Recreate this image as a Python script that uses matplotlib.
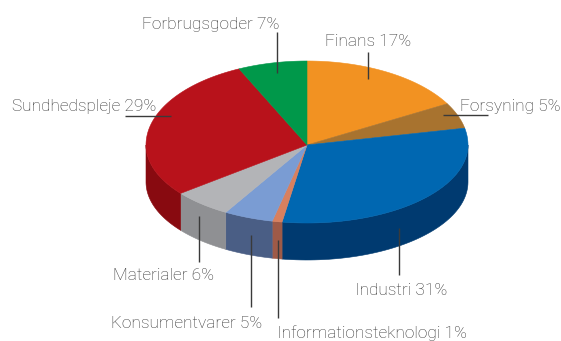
import numpy as np
import matplotlib
matplotlib.use("Agg")
import matplotlib.pyplot as plt
from matplotlib.patches import Polygon

# Sector shares (%), clockwise from 12 o'clock
sectors = ["Finans", "Forsyning", "Industri", "Informationsteknologi",
           "Konsumentvarer", "Materialer", "Sundhedspleje", "Forbrugsgoder"]
shares = [17, 5, 31, 1, 5, 6, 29, 7]

top_colors = ["#F29222", "#A8732F", "#0067B1", "#D8805F",
              "#7A9CD3", "#B3B4B7", "#B8121B", "#00984A"]
side_colors = ["#B86E18", "#7A5322", "#003A70", "#9E5A47",
               "#4A5E85", "#8F9093", "#880A10", "#006E35"]

# label text position (left x, baseline y) and leader line (x0, y0, x1, y1) in pixels
label_pos = [(325, 46), (460, 111), (355, 295), (277, 338),
             (111, 328), (113, 280), (12, 111), (142, 29)]
leaders = [(368, 52, 368, 79), (443, 115, 488, 115), (399, 228, 399, 275),
           (278, 240, 278, 318), (251, 235, 251, 307), (199, 216, 199, 262),
           (125, 116, 171, 116), (277, 32, 277, 73)]

W, H = 561, 341
fig = plt.figure(figsize=(W / 100, H / 100), dpi=100)
ax = fig.add_axes([0, 0, 1, 1])
ax.set_xlim(0, W)
ax.set_ylim(H, 0)
ax.axis("off")

cx, cy = 307, 145
a, b_up, b_low = 161, 84, 78
depth = 37


def pt(t_deg):
    t = np.radians(t_deg)
    s = np.sin(t)
    b = b_up if s > 0 else b_low
    return cx + a * np.cos(t), cy - b * s


fr = np.array(shares, dtype=float) / np.sum(shares)
edges = 90 - 360 * np.concatenate([[0], np.cumsum(fr)])

# side walls (front half only)
for i in range(len(shares)):
    t0, t1 = edges[i], edges[i + 1]  # t0 > t1
    lo, hi = max(t1, -180), min(t0, 0)
    if hi <= lo:
        continue
    ts = np.linspace(hi, lo, 60)
    top = [pt(t) for t in ts]
    bot = [(x, y + depth) for x, y in top][::-1]
    ax.add_patch(Polygon(top + bot, closed=True, facecolor=side_colors[i],
                         edgecolor=side_colors[i], lw=0.4, zorder=1))

# top face
for i in range(len(shares)):
    t0, t1 = edges[i], edges[i + 1]
    n = max(4, int(abs(t0 - t1)))
    ts = np.linspace(t0, t1, n)
    poly = [(cx, cy)] + [pt(t) for t in ts]
    ax.add_patch(Polygon(poly, closed=True, facecolor=top_colors[i],
                         edgecolor=top_colors[i], lw=0.4, zorder=2))

# labels and leader lines
for i, name in enumerate(sectors):
    x, y = label_pos[i]
    ax.text(x, y, f"{name} {shares[i]}%", ha="left", va="baseline",
            fontsize=12.4, color="#333333", family="Roboto", fontweight="light",
            zorder=4)
    x0, y0, x1, y1 = leaders[i]
    ax.plot([x0, x1], [y0, y1], color="#3a3a3a", lw=1.0, zorder=3,
            solid_capstyle="butt")

fig.savefig("out.png", dpi=100, facecolor="white")
